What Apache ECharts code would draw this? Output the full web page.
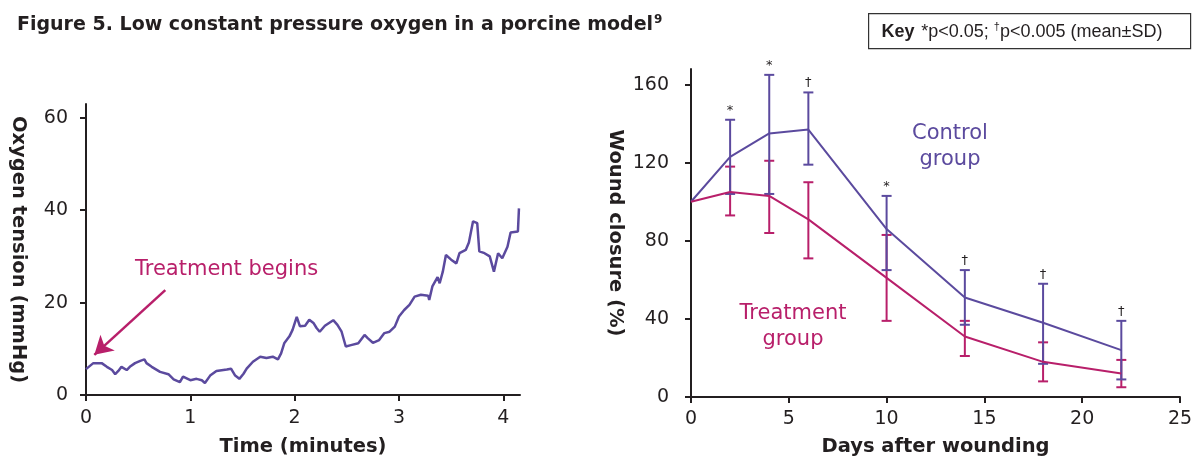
<!DOCTYPE html>
<html>
<head>
<meta charset="utf-8">
<script src="https://cdn.jsdelivr.net/npm/echarts@6/dist/echarts.min.js"></script>
<style>
  html, body { margin: 0; padding: 0; background: #fff; }
  #main { width: 1198px; height: 464px; }
</style>
</head>
<body>
<div id="main"></div>
<script>
// left panel: oxygen tension trace
var timeMin = [0, 0.07, 0.15, 0.2, 0.25, 0.28, 0.31, 0.34, 0.39, 0.42, 0.47, 0.52, 0.56, 0.58, 0.63, 0.71,
  0.79, 0.84, 0.9, 0.93, 1.0, 1.06, 1.11, 1.14, 1.19, 1.25, 1.35, 1.39, 1.43, 1.47, 1.51, 1.54, 1.6, 1.67,
  1.73, 1.79, 1.84, 1.87, 1.9, 1.95, 1.98, 2.02, 2.05, 2.1, 2.14, 2.18, 2.21, 2.24, 2.29, 2.37, 2.41, 2.45,
  2.49, 2.54, 2.61, 2.67, 2.7, 2.75, 2.81, 2.86, 2.91, 2.96, 3.0, 3.05, 3.1, 3.15, 3.21, 3.28, 3.29, 3.32,
  3.37, 3.39, 3.42, 3.45, 3.5, 3.55, 3.58, 3.64, 3.67, 3.71, 3.75, 3.77, 3.82, 3.87, 3.91, 3.95, 3.99,
  4.04, 4.07, 4.14, 4.15];
var oxygen = [5.6, 6.9, 6.9, 6.1, 5.4, 4.5, 5.2, 6.1, 5.4, 6.1, 6.9, 7.4, 7.7, 6.9, 6.1, 5.0,
  4.5, 3.4, 2.8, 4.0, 3.2, 3.5, 3.2, 2.6, 4.2, 5.2, 5.5, 5.7, 4.2, 3.5, 4.6, 5.7, 7.2, 8.3,
  8.0, 8.3, 7.7, 9.0, 11.2, 12.7, 14.1, 16.9, 14.9, 15.0, 16.3, 15.6, 14.5, 13.7, 15.0, 16.2, 15.2, 13.7,
  10.5, 10.8, 11.2, 13.0, 12.3, 11.3, 11.9, 13.4, 13.7, 14.8, 17.0, 18.4, 19.5, 21.3, 21.7, 21.5, 20.6, 23.5,
  25.5, 24.2, 26.7, 30.3, 29.3, 28.5, 30.7, 31.4, 33.0, 37.6, 37.2, 31.1, 30.7, 30.0, 26.7, 30.7, 29.6,
  32.1, 35.2, 35.4, 40.4];
var oxygenTicks = [0, 20, 40, 60];
var timeTicks = [0, 1, 2, 3, 4];

// right panel: wound closure
var days = [0, 2, 4, 6, 10, 14, 18, 22];
var controlMean = [100, 123, 135, 137, 86, 51, 38, 24];
var controlUpper = [null, 142, 165, 156, 103, 65, 58, 39];
var controlLower = [null, 104, 104, 119, 65, 37, 17, 9];
var treatMean = [100, 105, 103, 91, 61, 31, 18, 12];
var treatUpper = [null, 118, 121, 110, 83, 39, 28, 19];
var treatLower = [null, 93, 84, 71, 39, 21, 8, 5];
var signif = ['', '*', '*', '\u2020', '*', '\u2020', '\u2020', '\u2020'];
var closureTicks = [0, 40, 80, 120, 160];

var PURPLE = '#5b4a9e';
var MAGENTA = '#b81f6a';
var INK = '#231f20';
var FONT = 'DejaVu Sans';

function pairs(xs, ys) {
  return xs.map(function (x, i) { return [x, ys[i]]; });
}
function barData(lo, hi, marks) {
  var out = [];
  days.forEach(function (d, i) {
    if (hi[i] == null) return;
    out.push([d, hi[i], lo[i], marks ? marks[i] : '']);
  });
  return out;
}
function errorBar(color) {
  return function (params, api) {
    var x = api.value(0);
    var hi = api.coord([x, api.value(1)]);
    var lo = api.coord([x, api.value(2)]);
    var w = 5;
    function seg(x1, y1, x2, y2) {
      return { type: 'line', shape: { x1: x1, y1: y1, x2: x2, y2: y2 },
        style: { stroke: color, lineWidth: 2 } };
    }
    var kids = [
      seg(hi[0], hi[1], lo[0], lo[1]),
      seg(hi[0] - w, hi[1], hi[0] + w, hi[1]),
      seg(lo[0] - w, lo[1], lo[0] + w, lo[1])
    ];
    var mark = api.value(3);
    if (mark) {
      kids.push({ type: 'text', x: hi[0], y: hi[1] - 3,
        style: { text: mark, fill: INK, font: '13px ' + FONT, align: 'center', verticalAlign: 'bottom' } });
    }
    return { type: 'group', children: kids };
  };
}

var axisLineStyle = { lineStyle: { color: INK, width: 2 } };
var tickStyle = { length: 6, lineStyle: { color: INK, width: 2 } };
var labelStyle = { color: INK, fontSize: 19, fontFamily: FONT };
var nameStyle = { color: INK, fontSize: 19.5, fontWeight: 'bold', fontFamily: FONT };

var chart = echarts.init(document.getElementById('main'));
var option = {
  backgroundColor: '#fff',
  animation: false,
  title: {
    left: 12, top: 9,
    text: '{a|Figure 5}{b|. Low constant pressure oxygen in a porcine model}{s|9}',
    textStyle: {
      rich: {
        a: { fontSize: 19, fontWeight: 'bold', color: INK, fontFamily: FONT },
        b: { fontSize: 19, fontWeight: 'bold', color: INK, fontFamily: FONT },
        s: { fontSize: 12, fontWeight: 'bold', color: INK, fontFamily: FONT, verticalAlign: 'top', padding: [0, 0, 10, 1] }
      }
    }
  },
  grid: [
    { left: 86, top: 104, width: 434, height: 291 },
    { left: 691, top: 69, width: 489, height: 328 }
  ],
  xAxis: [
    {
      gridIndex: 0, type: 'value', min: 0, max: 4.16, interval: 1,
      name: 'Time (minutes)', nameLocation: 'middle', nameGap: 42, nameTextStyle: nameStyle,
      axisLine: axisLineStyle, splitLine: { show: false },
      axisTick: Object.assign({ customValues: timeTicks }, tickStyle),
      axisLabel: Object.assign({ customValues: timeTicks, margin: 14 }, labelStyle)
    },
    {
      gridIndex: 1, type: 'value', min: 0, max: 25, interval: 5,
      name: 'Days after wounding', nameLocation: 'middle', nameGap: 40, nameTextStyle: nameStyle,
      axisLine: axisLineStyle, splitLine: { show: false },
      axisTick: tickStyle,
      axisLabel: Object.assign({ margin: 13 }, labelStyle)
    }
  ],
  yAxis: [
    {
      gridIndex: 0, type: 'value', min: 0, max: 63, interval: 20,
      name: 'Oxygen tension (mmHg)', nameLocation: 'middle', nameGap: 58, nameRotate: -90,
      nameTextStyle: nameStyle,
      axisLine: axisLineStyle, splitLine: { show: false },
      axisTick: Object.assign({ customValues: oxygenTicks }, tickStyle),
      axisLabel: Object.assign({ customValues: oxygenTicks, margin: 18 }, labelStyle)
    },
    {
      gridIndex: 1, type: 'value', min: 0, max: 168, interval: 40,
      name: 'Wound closure (%)', nameLocation: 'middle', nameGap: 66, nameRotate: -90,
      nameTextStyle: nameStyle,
      axisLine: axisLineStyle, splitLine: { show: false },
      axisTick: Object.assign({ customValues: closureTicks }, tickStyle),
      axisLabel: Object.assign({ customValues: closureTicks, margin: 22 }, labelStyle)
    }
  ],
  series: [
    {
      type: 'line', xAxisIndex: 0, yAxisIndex: 0,
      data: pairs(timeMin, oxygen), symbol: 'none',
      lineStyle: { color: PURPLE, width: 2.5 },
      markLine: {
        silent: true, symbol: ['none', 'arrow'], symbolSize: [16, 18],
        label: { show: false },
        lineStyle: { color: MAGENTA, width: 2.5, type: 'solid' },
        data: [[{ coord: [0.76, 22.7] }, { coord: [0.08, 8.7] }]]
      }
    },
    {
      type: 'line', xAxisIndex: 1, yAxisIndex: 1, name: 'Control',
      data: pairs(days, controlMean), symbol: 'none',
      lineStyle: { color: PURPLE, width: 2 }
    },
    {
      type: 'line', xAxisIndex: 1, yAxisIndex: 1, name: 'Treatment',
      data: pairs(days, treatMean), symbol: 'none',
      lineStyle: { color: MAGENTA, width: 2 }
    },
    {
      type: 'custom', xAxisIndex: 1, yAxisIndex: 1,
      data: barData(treatLower, treatUpper), renderItem: errorBar(MAGENTA),
      encode: { x: 0, y: [1, 2] }
    },
    {
      type: 'custom', xAxisIndex: 1, yAxisIndex: 1,
      data: barData(controlLower, controlUpper, signif), renderItem: errorBar(PURPLE),
      encode: { x: 0, y: [1, 2] }
    }
  ],
  graphic: [
    {
      type: 'group', left: 868, top: 13,
      children: [
        { type: 'rect', shape: { x: 0, y: 0, width: 322, height: 35 },
          style: { fill: '#fff', stroke: '#333', lineWidth: 1.2 } },
        { type: 'text', x: 13, y: 18,
          style: {
            text: '{k|Key}  {t|*p<0.05; }{d|\u2020}{t|p<0.005 (mean\u00b1SD)}',
            verticalAlign: 'middle',
            rich: {
              k: { fontSize: 18, fontWeight: 'bold', fill: INK, fontFamily: 'Liberation Sans' },
              t: { fontSize: 18, fill: INK, fontFamily: 'Liberation Sans' },
              d: { fontSize: 11, fill: INK, fontFamily: 'Liberation Sans', verticalAlign: 'top', padding: [0, 0, 9, 0] }
            }
          } }
      ]
    },
    { type: 'text', left: 135, top: 259,
      style: { text: 'Treatment begins', fill: MAGENTA, font: '21px ' + FONT } },
    { type: 'text', x: 950, y: 147,
      style: { text: 'Control\ngroup', fill: PURPLE, font: '21px ' + FONT, align: 'center', verticalAlign: 'middle', lineHeight: 26 } },
    { type: 'text', x: 793, y: 327,
      style: { text: 'Treatment\ngroup', fill: MAGENTA, font: '21px ' + FONT, align: 'center', verticalAlign: 'middle', lineHeight: 26 } }
  ]
};
chart.setOption(option);
window.addEventListener('resize', function () { chart.resize(); });
</script>
</body>
</html>
